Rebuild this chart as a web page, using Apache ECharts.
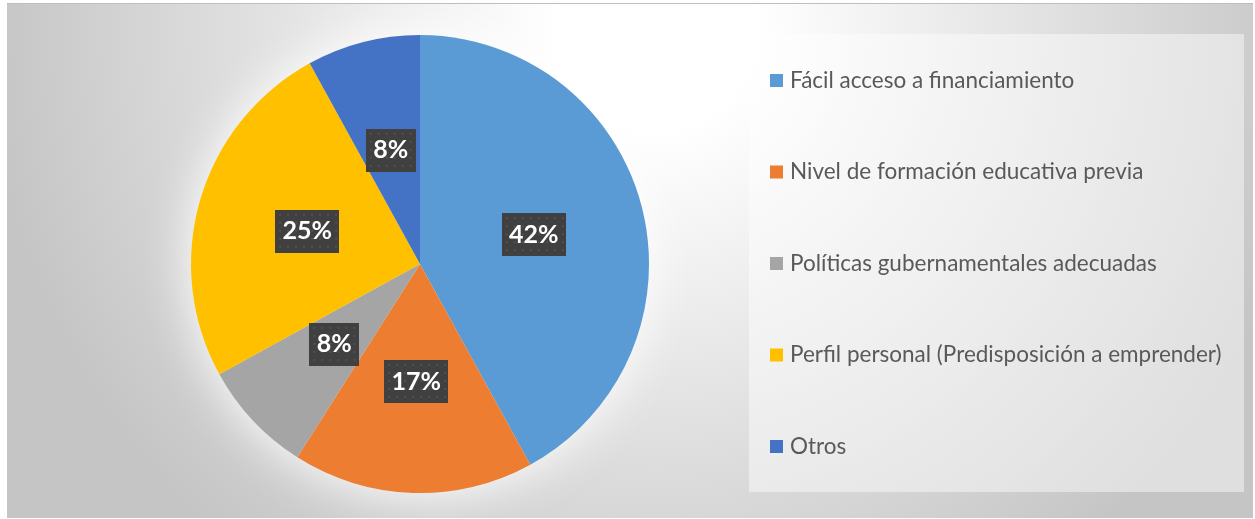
<!DOCTYPE html>
<html>
<head>
<meta charset="utf-8">
<script src="https://cdn.jsdelivr.net/npm/echarts@6/dist/echarts.min.js"></script>
<style>
  html, body { margin: 0; padding: 0; background: #ffffff; }
  #chart {
    position: absolute; left: 7px; top: 3px;
    width: 1246px; height: 514px;
    border-top: 1px solid #bdbdbd;
  }
</style>
</head>
<body>
<div id="chart"></div>
<script>
// Factores que favorecen el emprendimiento (porcentaje de respuestas)
const categories = [
  'Fácil acceso a financiamiento',
  'Nivel de formación educativa previa',
  'Políticas gubernamentales adecuadas',
  'Perfil personal (Predisposición a emprender)',
  'Otros'
];
const percentages = [42, 17, 8, 25, 8];
const sliceColors = ['#5B9BD5', '#ED7D31', '#A5A5A5', '#FFC000', '#4472C4'];

// Dark dotted tile used behind the value labels
function dottedTile(w, h) {
  const c = document.createElement('canvas');
  c.width = w; c.height = h;
  const g = c.getContext('2d');
  g.fillStyle = '#404040';
  g.fillRect(0, 0, w, h);
  g.fillStyle = '#505050';
  for (let y = 4; y < h; y += 8) {
    for (let x = 4; x < w; x += 8) {
      g.fillRect(x, y, 2, 2);
    }
  }
  return c;
}
const wideTile = dottedTile(64, 43);
const narrowTile = dottedTile(50, 43);

const labelBox = {
  color: '#ffffff',
  fontFamily: 'Lato',
  fontWeight: 'bold',
  fontSize: 25,
  height: 27,
  lineHeight: 27,
  align: 'center',
  padding: [8, 8, 8, 8],
  shadowColor: 'rgba(0,0,0,0.5)',
  shadowBlur: 8,
  shadowOffsetX: 4,
  shadowOffsetY: 4
};

const chart = echarts.init(document.getElementById('chart'), null, { renderer: 'canvas' });

chart.setOption({
  backgroundColor: {
    type: 'radial', x: 0.52, y: 0.05, r: 1.3,
    colorStops: [
      { offset: 0, color: '#ffffff' },
      { offset: 0.15, color: '#ffffff' },
      { offset: 1, color: '#c5c5c5' }
    ]
  },
  animation: false,
  legend: {
    orient: 'vertical',
    data: categories,
    left: 742,
    top: 30,
    icon: 'rect',
    itemWidth: 13,
    itemHeight: 13,
    itemGap: 68.5,
    padding: [35, 20, 34, 21],
    backgroundColor: 'rgba(255,255,255,0.45)',
    textStyle: {
      fontFamily: 'Lato',
      fontSize: 22.5,
      lineHeight: 22,
      color: '#595959',
      width: 434,
      padding: [0, 0, 0, 2]
    },
    selectedMode: false
  },
  series: [
    {
      // soft light halo behind the pie
      type: 'pie',
      center: [413, 260],
      radius: 229,
      silent: true,
      z: 1,
      label: { show: false },
      labelLine: { show: false },
      itemStyle: {
        color: '#f0f0f0',
        shadowColor: 'rgba(255,255,255,1)',
        shadowBlur: 50
      },
      data: [{ value: 1, name: '' }]
    },
    {
      type: 'pie',
      center: [413, 260],
      radius: 229,
      startAngle: 90,
      clockwise: true,
      z: 2,
      itemStyle: { borderWidth: 0 },
      label: {
        show: true,
        position: 'inside',
        formatter: p => '{' + (String(p.value).length > 1 ? 'w' : 'n') + '|' + p.value + '%}',
        rich: {
          w: Object.assign({}, labelBox, { width: 48, backgroundColor: { image: wideTile } }),
          n: Object.assign({}, labelBox, { width: 34, backgroundColor: { image: narrowTile } })
        }
      },
      labelLine: { show: false },
      emphasis: { disabled: true },
      data: categories.map((name, i) => ({
        name: name,
        value: percentages[i],
        itemStyle: { color: sliceColors[i] }
      }))
    }
  ]
});
</script>
</body>
</html>
